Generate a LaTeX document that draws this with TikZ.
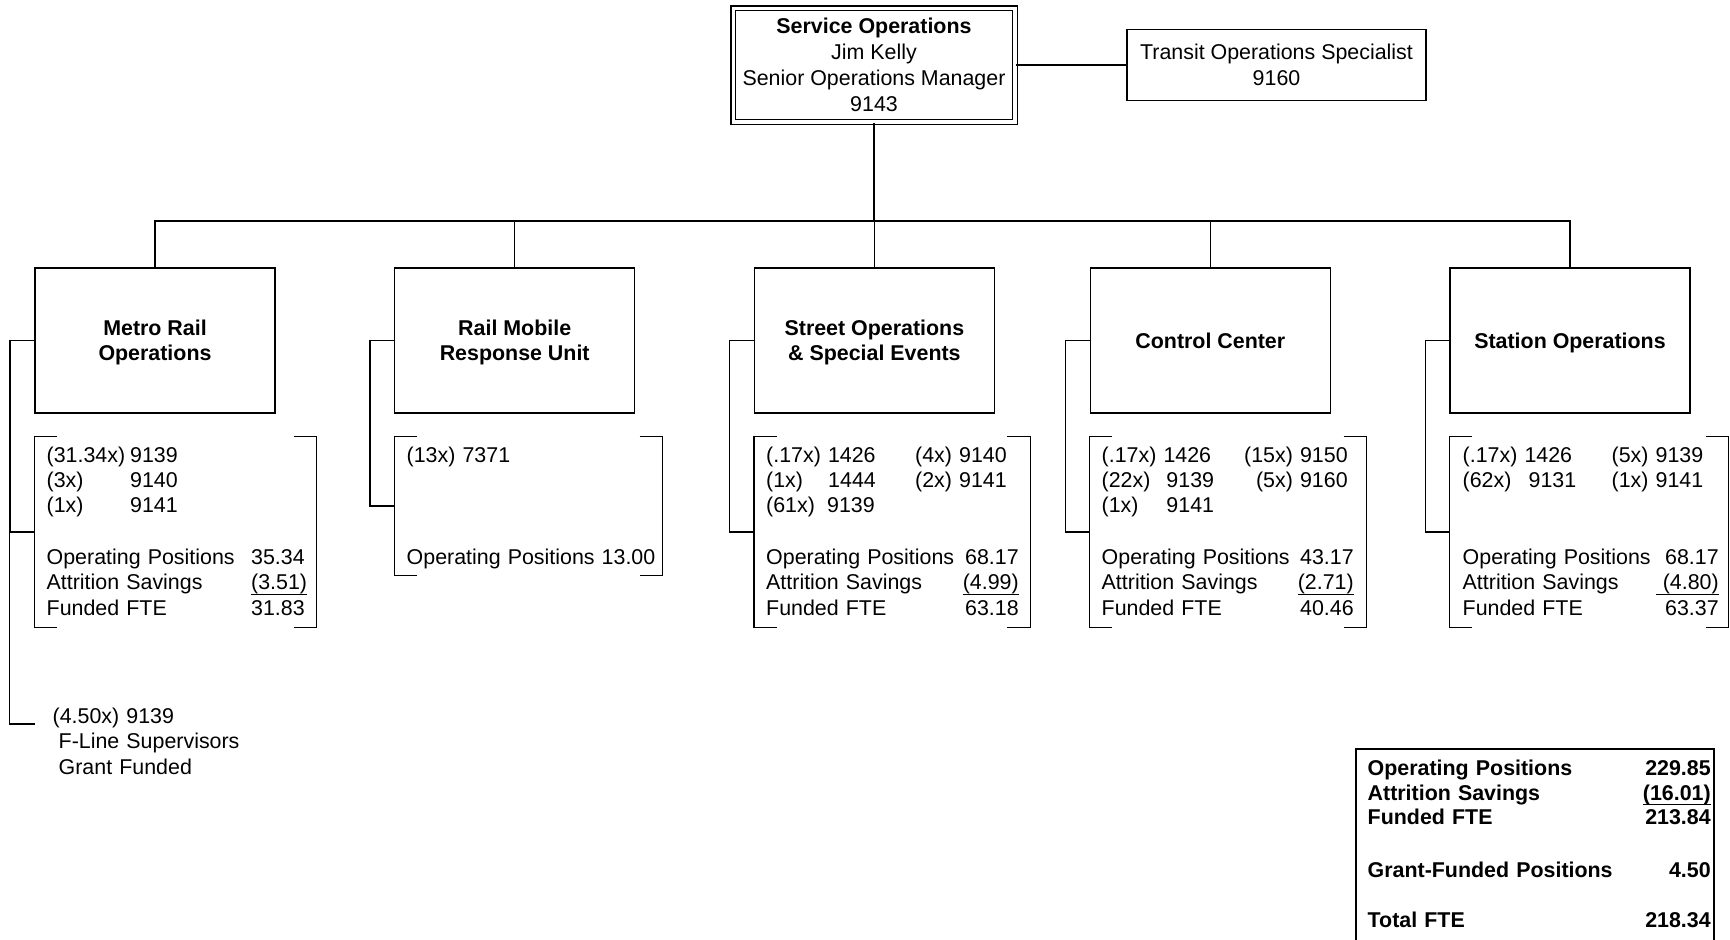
\documentclass[tikz,border=0pt]{standalone}
\usepackage{fontspec}
\setmainfont{Liberation Sans}
\newcommand{\undl}[1]{\setbox0=\hbox{#1}\rlap{\rule[-2.4pt]{\wd0}{0.6pt}}\box0}

\begin{document}
\begin{tikzpicture}[x=0.5pt, y=-0.5pt, line width=0.7pt,
  headbox/.style={draw, double, double distance=1.6pt, line width=0.75pt,
    minimum width=140.9pt, minimum height=56.9pt, inner sep=0pt, align=center,
    font=\fontsize{10.7pt}{12.9pt}\selectfont},
  sidebox/.style={draw, minimum width=149.5pt, minimum height=35.5pt,
    inner sep=0pt, align=center, font=\fontsize{10.7pt}{12.9pt}\selectfont},
  unitbox/.style={draw, minimum width=120pt, minimum height=72.5pt, text depth=0pt,
    inner sep=0pt, align=center, font=\fontsize{10.7pt}{12.5pt}\selectfont\bfseries},
  listframe/.style 2 args={minimum width=#1, minimum height=#2, inner sep=0pt},
  listtext/.style={anchor=base west, inner sep=0pt, text width=#1, align=left,
    font=\fontsize{10.7pt}{12.7pt}\selectfont},
  totbox/.style={draw, line width=0.8pt, minimum width=179pt, minimum height=110pt,
    inner sep=0pt, anchor=north west}]
  \useasboundingbox (0,0) rectangle (1730,939);

  \node[headbox] (svcOps) at (874,65)
    {\textbf{Service Operations}\\Jim Kelly\\Senior Operations Manager\\9143};
  \node[sidebox] (trnSpec) at (1276.5,65) {Transit Operations Specialist\\9160};
  \draw (svcOps.east) -- (trnSpec.west);

  \node[unitbox] (mro) at (155,340.5) {Metro Rail\\Operations};
  \node[unitbox] (rmu) at (514.7,340.5) {Rail Mobile\\Response Unit};
  \node[unitbox] (sse) at (874.4,340.5) {Street Operations\\\& Special Events};
  \node[unitbox] (cc) at (1210.3,340.5) {Control Center};
  \node[unitbox] (sta) at (1570,340.5) {Station Operations};

  \coordinate (bus) at (874,221);
  \draw (svcOps.south) -- (bus);
  \foreach \u in {mro,rmu,sse,cc,sta}
    \draw (bus) -| (\u.north);

  \node[listframe={140.5pt}{95pt}] (mroList) at (175.5,532) {};
  \node[listframe={133.5pt}{69pt}] (rmuList) at (528.5,506) {};
  \node[listframe={137.5pt}{95pt}] (sseList) at (892,532) {};
  \node[listframe={138pt}{95pt}] (ccList) at (1228,532) {};
  \node[listframe={139pt}{95pt}] (staList) at (1589,532) {};
  \foreach \l in {mroList,rmuList,sseList,ccList,staList}{
    \draw ([xshift=11.5pt]\l.north west) -- (\l.north west) -- (\l.south west) -- ++(11.5pt,0);
    \draw ([xshift=-11.5pt]\l.north east) -- (\l.north east) -- (\l.south east) -- ++(-11.5pt,0);
  }
  \foreach \u/\l in {mro/mroList,rmu/rmuList,sse/sseList,cc/ccList,sta/staList}
    \draw (\u.west) -- ++(-12pt,0) |- (\l.west);

  \coordinate (grantTip) at (35,724);
  \draw (mro.west) -- ++(-12.5pt,0) |- (grantTip);
  \node[listtext=130pt] (grant) at (52,723.5)
    {(4.50x) 9139\\\hspace*{3pt}F-Line Supervisors\\\hspace*{3pt}Grant Funded};

  \node[listtext=130pt] (mroText) at (46,462)
    {\makebox[41.75pt][l]{(31.34x)}9139\\
     \makebox[41.75pt][l]{(3x)}9140\\
     \makebox[41.75pt][l]{(1x)}9141\\[13.15pt]
     \makebox[102.25pt][l]{Operating Positions}35.34\\
     \makebox[102.25pt][l]{Attrition Savings}\undl{(3.51)}\\
     \makebox[102.25pt][l]{Funded FTE}31.83};
  \node[listtext=125pt] (rmuText) at (406,462)
    {(13x) 7371\\[38.55pt]
     Operating Positions 13.00};
  \node[listtext=126.25pt] (sseText) at (765.5,462)
    {\makebox[74.5pt][l]{(.17x) 1426}(4x) 9140\\
     \makebox[31pt][l]{(1x)}\makebox[43.5pt][l]{1444}(2x) 9141\\
     \makebox[30.5pt][l]{(61x)}9139\\[13.15pt]
     Operating Positions\hfill 68.17\\
     Attrition Savings\hfill\undl{(4.99)}\\
     Funded FTE\hfill 63.18};
  \node[listtext=126pt] (ccText) at (1101,462)
    {\makebox[123pt][l]{(.17x) 1426\hfill(15x) 9150}\\
     \makebox[123pt][l]{\makebox[32.4pt][l]{(22x)}9139\hfill(5x) 9160}\\
     \makebox[32.4pt][l]{(1x)}9141\\[13.15pt]
     Operating Positions\hfill 43.17\\
     Attrition Savings\hfill\undl{(2.71)}\\
     Funded FTE\hfill 40.46};
  \node[listtext=128pt] (staText) at (1462,462)
    {\makebox[74.5pt][l]{(.17x) 1426}(5x) 9139\\
     \makebox[33pt][l]{(62x)}\makebox[41.5pt][l]{9131}(1x) 9141\\[25.85pt]
     Operating Positions\hfill 68.17\\
     Attrition Savings\hfill\undl{\ (4.80)}\\
     Funded FTE\hfill 63.37};

  \node[totbox] (totBox) at (1355,748) {};
  \node[listtext=171.5pt, font=\fontsize{10.7pt}{12.35pt}\selectfont\bfseries] (totText) at (1367,775.5)
    {Operating Positions\hfill 229.85\\
     Attrition Savings\hfill\undl{(16.01)}\\
     Funded FTE\hfill 213.84\\[13.9pt]
     Grant-Funded Positions\hfill 4.50\\[12.9pt]
     Total FTE\hfill 218.34};
\end{tikzpicture}
\end{document}
